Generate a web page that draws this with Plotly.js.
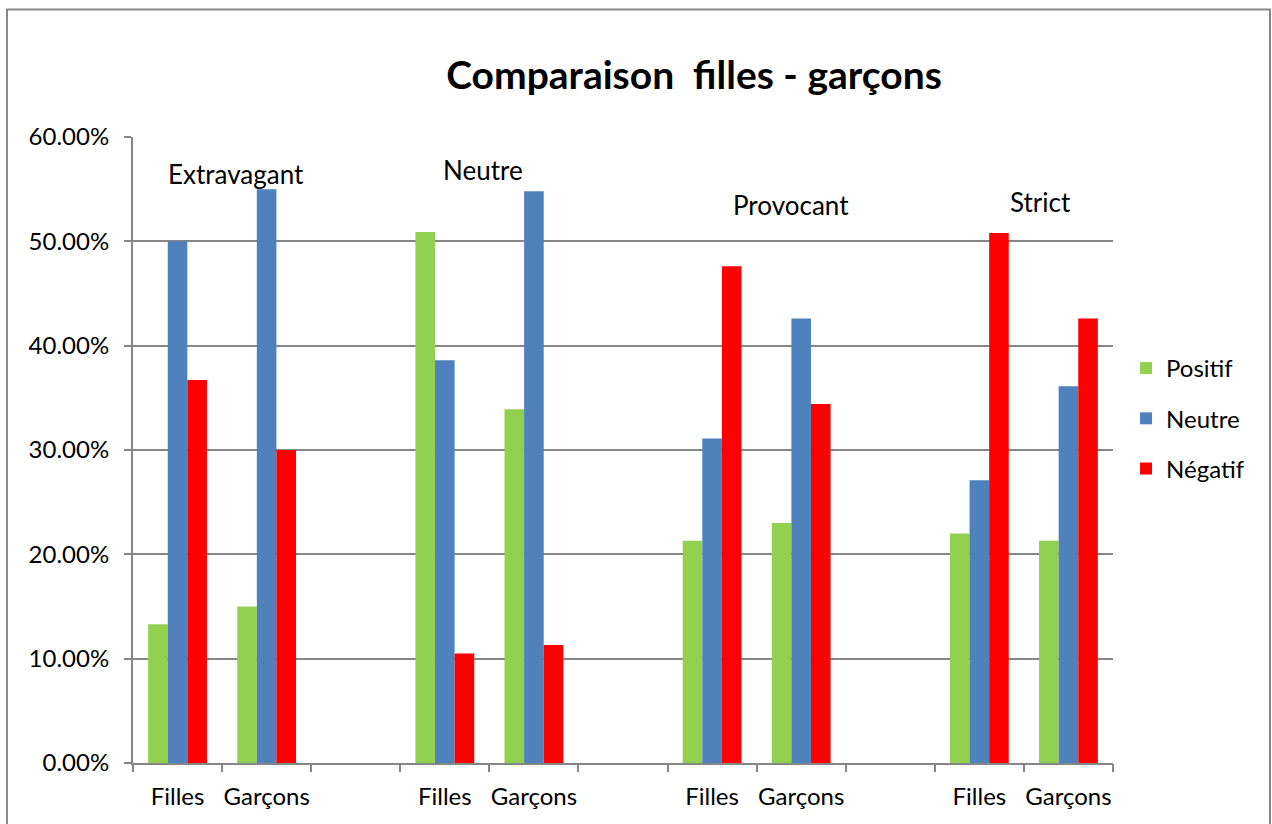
<!DOCTYPE html>
<html>
<head>
<meta charset="utf-8">
<script src="https://cdn.plot.ly/plotly-3.0.1.min.js"></script>
<style>html,body{margin:0;padding:0;background:#fff;}#chart{width:1272px;height:824px;}</style>
</head>
<body>
<div id="chart"></div>
<script>
// Data
const categories = ["Filles","Garçons","","Filles","Garçons","","Filles","Garçons","","Filles","Garçons"];
const positif = [0.133, 0.150, null, 0.509, 0.339, null, 0.213, 0.230, null, 0.220, 0.213];
const neutre  = [0.500, 0.550, null, 0.386, 0.548, null, 0.311, 0.426, null, 0.271, 0.361];
const negatif = [0.367, 0.300, null, 0.105, 0.113, null, 0.476, 0.344, null, 0.508, 0.426];
const seriesNames = ["Positif","Neutre","Négatif"];
const groupLabels = ["Extravagant","Neutre","Provocant","Strict"];
const yTicks = [0, 0.1, 0.2, 0.3, 0.4, 0.5, 0.6];

const FONT = "Lato, 'Open Sans', sans-serif";
const GRID = "#868686";
const xIdx = categories.map((c, i) => i);
const colors = ["#92D050", "#4F81BD", "#FF0000"];
const series = [positif, neutre, negatif];

const traces = series.map((vals, k) => ({
  type: "bar", x: xIdx, y: vals, name: seriesNames[k],
  legendgroup: "g" + k,
  marker: {color: colors[k], line: {width: 0}},
  hoverinfo: "y+name"
}));
// helper trace for boundary tick axis
traces.push({type: "scatter", x: [-0.5], y: [0], xaxis: "x2", mode: "markers",
  marker: {opacity: 0}, showlegend: false, hoverinfo: "skip"});

const boundaries = [];
for (let i = 0; i <= categories.length; i++) boundaries.push(i - 0.5);

// group label annotations (positions in data units)
const labelPos = [[0.656, 0.565], [3.429, 0.568], [6.886, 0.5345], [9.681, 0.5374]];
const annotations = groupLabels.map((t, i) => ({
  text: t, x: labelPos[i][0], y: labelPos[i][1], xref: "x", yref: "y",
  showarrow: false, xanchor: "center", yanchor: "middle",
  font: {family: FONT, size: 26, color: "#000"}
}));

const layout = {
  width: 1272, height: 824,
  margin: {l: 133, r: 159, t: 137, b: 61},
  paper_bgcolor: "#fff", plot_bgcolor: "#fff",
  font: {family: FONT, color: "#000"},
  title: {text: "<b>Comparaison  filles - garçons</b>", xref: "container", x: 0.5456,
    xanchor: "center", yref: "container", y: 0.909, yanchor: "middle",
    font: {family: FONT, size: 39, color: "#000"}},
  barmode: "group", bargap: 0.34, bargroupgap: 0,
  xaxis: {range: [-0.5, categories.length - 0.5], tickmode: "array", tickvals: xIdx,
    ticktext: categories, ticks: "", showgrid: false, zeroline: false,
    showline: true, linecolor: GRID, linewidth: 2,
    tickfont: {family: FONT, size: 24, color: "#000"}, ticklabelstandoff: 11, fixedrange: true},
  xaxis2: {range: [-0.5, categories.length - 0.5], overlaying: "x", anchor: "y", side: "bottom",
    tickmode: "array", tickvals: boundaries, ticktext: boundaries.map(() => ""),
    ticks: "outside", ticklen: 8, tickwidth: 2, tickcolor: GRID,
    showgrid: false, zeroline: false, showline: false, showticklabels: false},
  yaxis: {range: [0, 0.6], tickmode: "array", tickvals: yTicks, tickformat: ".2%",
    ticks: "outside", ticklen: 7, tickwidth: 2, tickcolor: GRID,
    showgrid: true, gridcolor: GRID, gridwidth: 2, zeroline: false,
    showline: true, linecolor: GRID, linewidth: 2,
    tickfont: {family: FONT, size: 24, color: "#000"}, ticklabelstandoff: 10},
  legend: {x: 1.0133, xanchor: "left", y: 0.5503, yanchor: "middle",
    font: {family: FONT, size: 24, color: "#000"}, tracegroupgap: 16,
    bgcolor: "rgba(0,0,0,0)", borderwidth: 0},
  annotations: annotations,
  shapes: [{type: "rect", xref: "paper", yref: "paper", x0: -0.1286, x1: 1.1602,
    y0: -0.3, y1: 1.2037, line: {color: "#878787", width: 2}, fillcolor: "rgba(0,0,0,0)"}],
  showlegend: true
};

Plotly.newPlot("chart", traces, layout, {displayModeBar: false, staticPlot: true});
</script>
</body>
</html>
